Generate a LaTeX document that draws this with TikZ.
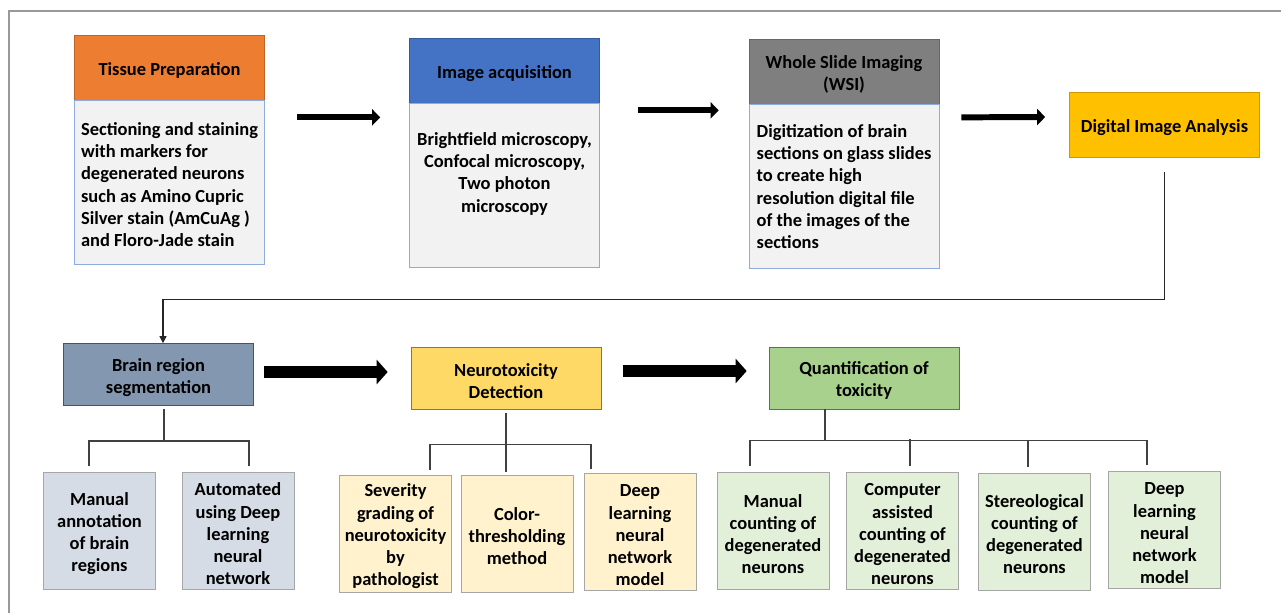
\documentclass[tikz,border=0pt]{standalone}
\usepackage{fontspec}
\setmainfont{Carlito}
\usepackage{xcolor}
\usepackage{tikz}
\usetikzlibrary{positioning,arrows.meta,calc}

\definecolor{prepOrange}{HTML}{ED7D31}
\definecolor{acqBlue}{HTML}{4472C4}
\definecolor{wsiGray}{HTML}{7F7F7F}
\definecolor{diaGold}{HTML}{FFC000}
\definecolor{bodyFill}{HTML}{F2F2F2}
\definecolor{bodyLine}{HTML}{8FAADC}
\definecolor{segBlue}{HTML}{8497B0}
\definecolor{detYellow}{HTML}{FFD966}
\definecolor{quantGreen}{HTML}{A9D18E}
\definecolor{leafBlue}{HTML}{D6DCE5}
\definecolor{leafYellow}{HTML}{FFF2CC}
\definecolor{leafGreen}{HTML}{E2F0D9}
\definecolor{leafLine}{HTML}{A6A6A6}

% text block glued to the top of a body box
\newcommand{\toptext}[3][0cm]{\parbox[c][2.58cm][t]{3.7cm}{\vspace*{#1}\centering\begin{tabular}{@{}#2@{}}#3\end{tabular}}}
% taller first line, pushes centred text a little down
\newcommand{\lowtop}{\rule{0pt}{10.6pt}}

\begin{document}
\begin{tikzpicture}[
    x=0.02cm, y=-0.02cm,
    font=\bfseries\fontsize{10.5}{12.6}\selectfont,
    head/.style={
        draw=#1!80!black,
        fill=#1,
        thin,
        minimum width=3.8cm,
        minimum height=1.3cm,
        align=center,
        inner sep=1pt
    },
    body/.style={
        draw=bodyLine,
        fill=bodyFill,
        thin,
        minimum width=3.8cm,
        minimum height=3.28cm,
        anchor=north,
        inner sep=0pt
    },
    stage/.style={
        draw=#1!55!black,
        fill=#1,
        thin,
        minimum width=3.8cm,
        minimum height=1.24cm,
        align=center,
        inner sep=1pt
    },
    leaf/.style={
        draw=leafLine,
        fill=#1,
        thin,
        minimum width=2.24cm,
        minimum height=2.34cm,
        align=center,
        inner sep=1pt
    },
    arr/.style={line width=3.4pt, -{Triangle[length=0.16cm,width=0.32cm]}},
    bigarr/.style={line width=6.8pt, -{Triangle[length=0.22cm,width=0.48cm]}},
    link/.style={draw=black!85, line width=0.7pt},
    tree/.style={draw=black!75, line width=0.75pt}
]
\useasboundingbox (0,0) rectangle (1281,613);

% page frame
\draw[gray!80, line width=0.8pt] (9,613) -- (9,11) -- (1281,11);

% first row
\node[head=prepOrange] (prep) at (169.5,67.5) {\lowtop Tissue Preparation};
\node[body] (prepb) at (prep.south)
{\toptext[0.04cm]{l}{Sectioning and staining\\
with markers for\\
degenerated neurons\\
such as Amino Cupric\\
Silver stain (AmCuAg )\\
and Floro-Jade stain}};

\node[head=acqBlue] (acq) at (504.5,70.5) {\lowtop Image acquisition};
\node[body] (acqb) at (acq.south)
{\toptext[0.18cm]{c}{Brightfield microscopy,\\
Confocal microscopy,\\
Two photon\\
microscopy}};

\node[head=wsiGray] (wsi) at (844,71.5) {\lowtop Whole Slide Imaging\\(WSI)};
\node[body] (wsib) at (wsi.south)
{\toptext[0cm]{l}{Digitization of brain\\
sections on glass slides\\
to create high\\
resolution digital file\\
of the images of the\\
sections}};

\node[head=diaGold] (dia) at (1164.5,124.5) {\lowtop Digital Image Analysis};

\draw[arr] ([shift={(32,17)}]prepb.north east) -- ([shift={(-29,14)}]acqb.north west);
\draw[arr] ([shift={(38,7)}]acqb.north east) -- ([shift={(-30,6)}]wsib.north west);
\draw[arr] ([shift={(22,13)}]wsib.north east) -- ([shift={(-24,-7.5)}]dia.west);

% second row
\node[stage=segBlue] (brain) at (158.5,374.5) {\lowtop Brain region\\segmentation};
\node[stage=detYellow] (neuro) at (506,378) {\lowtop Neurotoxicity\\Detection};
\node[stage=quantGreen] (quant) at (864,378) {\lowtop Quantification of\\toxicity};

\draw[link, -{Triangle[length=4pt,width=4pt]}] ([shift={(0,15)}]dia.south) -- ++(0,127) -| ([shift={(4.5,0)}]brain.north);

\draw[bigarr] ([shift={(10,-2.5)}]brain.east) -- ([shift={(-23,-6)}]neuro.west);
\draw[bigarr] ([shift={(22,-7)}]neuro.east) -- ([shift={(-22,-7)}]quant.west);

% leaves
\node[leaf=leafBlue] (manual) at (99.5,531) {\lowtop Manual\\annotation\\of brain\\regions};
\node[leaf=leafBlue] (auto) at (238,531) {\lowtop Automated\\using Deep\\learning\\neural\\network};

\node[leaf=leafYellow] (sev) at (395.5,533.5) {\lowtop Severity\\grading of\\neurotoxicity\\by\\pathologist};
\node[leaf=leafYellow] (color) at (517,533.5) {\lowtop Color-\\thresholding\\method};
\node[leaf=leafYellow] (deepy) at (640,532) {\lowtop Deep\\learning\\neural\\network\\model};

\node[leaf=leafGreen] (mcount) at (773,531) {\lowtop Manual\\counting of\\degenerated\\neurons};
\node[leaf=leafGreen] (cassist) at (902.5,531) {\lowtop Computer\\assisted\\counting of\\degenerated\\neurons};
\node[leaf=leafGreen] (stereo) at (1034.5,531.5) {\lowtop Stereological\\counting of\\degenerated\\neurons};
\node[leaf=leafGreen] (deepg) at (1164.5,530) {\lowtop Deep\\learning\\neural\\network\\model};

% trees
\draw[tree] ([shift={(5.5,3)}]brain.south) -- ++(0,32) coordinate (bj);
\draw[tree] ([shift={(-10.5,-6)}]manual.north) |- (bj) -| ([shift={(11,-6)}]auto.north);

\draw[tree] ([shift={(0,4)}]neuro.south) -- ([shift={(-11,-3)}]color.north);
\coordinate (nj) at ([shift={(0,35)}]neuro.south);
\draw[tree] ([shift={(34.5,-5)}]sev.north) |- (nj) -| ([shift={(-49,-4)}]deepy.north);

\draw[tree] ([shift={(-39,0)}]quant.south) -- ++(0,31) coordinate (qj);
\draw[tree] ([shift={(-23,-6)}]mcount.north) |- (qj) -| ([shift={(-17.5,-6)}]deepg.north);
\draw[tree] ([shift={(7.5,-6)}]cassist.north) -- ++(0,-27);
\draw[tree] ([shift={(-6.5,-6)}]stereo.north) -- ++(0,-27);

\end{tikzpicture}
\end{document}
